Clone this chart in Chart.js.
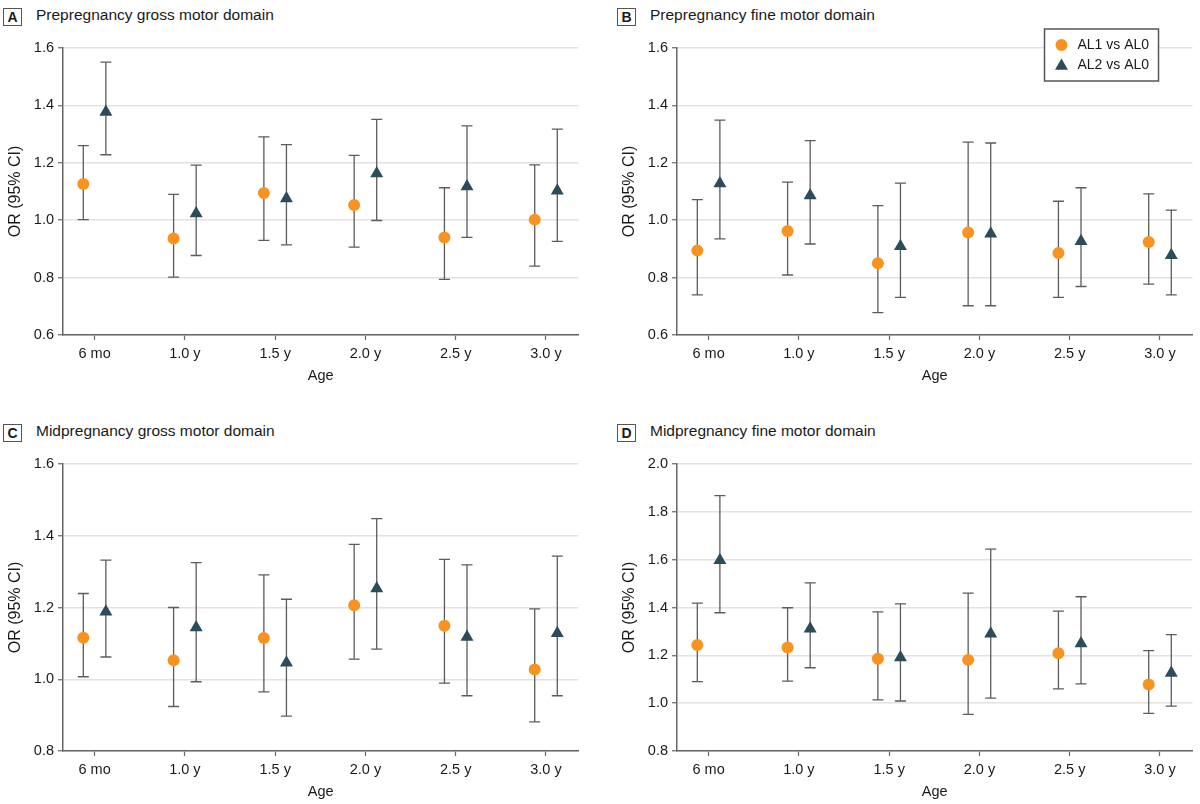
<!DOCTYPE html>
<html>
<head>
<meta charset="utf-8">
<title>Motor domain OR by age</title>
<script src="https://cdn.jsdelivr.net/npm/chart.js@4.4.1/dist/chart.umd.min.js"></script>
<style>
  body { margin: 0; background: #fff; width: 1200px; height: 804px; position: relative; overflow: hidden;
         font-family: 'Liberation Sans', Arial, sans-serif; color: #1a1a1a; }
  .panel { position: absolute; width: 586px; height: 400px; }
  .head { position: absolute; left: 3px; top: 8px; display: flex; align-items: center; }
  .tag { width: 17px; height: 16px; border: 1.5px solid #555; font-weight: bold; font-size: 14px;
         display: flex; align-items: center; justify-content: center; }
  .title { margin-left: 14px; font-size: 15.5px; position: relative; top: -2px; }
  .plot { position: absolute; left: 0; top: 20px; }
</style>
</head>
<body>
  <div class="panel" style="left:0;top:0">
    <div class="head"><div class="tag">A</div><div class="title">Prepregnancy gross motor domain</div></div>
    <canvas class="plot" id="chartA" width="586" height="380"></canvas>
  </div>
  <div class="panel" style="left:614px;top:0">
    <div class="head"><div class="tag">B</div><div class="title">Prepregnancy fine motor domain</div></div>
    <canvas class="plot" id="chartB" width="586" height="380"></canvas>
  </div>
  <div class="panel" style="left:0;top:416px">
    <div class="head"><div class="tag">C</div><div class="title">Midpregnancy gross motor domain</div></div>
    <canvas class="plot" id="chartC" width="586" height="380"></canvas>
  </div>
  <div class="panel" style="left:614px;top:416px">
    <div class="head"><div class="tag">D</div><div class="title">Midpregnancy fine motor domain</div></div>
    <canvas class="plot" id="chartD" width="586" height="380"></canvas>
  </div>

<script>
/* ====== DATA ====== */
const ageLabels = ['6 mo', '1.0 y', '1.5 y', '2.0 y', '2.5 y', '3.0 y'];

const yTicksPre = [0.6, 0.8, 1.0, 1.2, 1.4, 1.6];
const yTicksMidGross = [0.8, 1.0, 1.2, 1.4, 1.6];
const yTicksMidFine = [0.8, 1.0, 1.2, 1.4, 1.6, 1.8, 2.0];

// A - prepregnancy gross motor
const aAl1 = [1.126, 0.936, 1.095, 1.053, 0.940, 1.002];
const aAl1Lo = [1.002, 0.802, 0.930, 0.906, 0.794, 0.840];
const aAl1Hi = [1.260, 1.090, 1.290, 1.226, 1.113, 1.193];
const aAl2 = [1.377, 1.023, 1.076, 1.163, 1.117, 1.103];
const aAl2Lo = [1.228, 0.877, 0.914, 0.999, 0.940, 0.926];
const aAl2Hi = [1.551, 1.192, 1.263, 1.351, 1.329, 1.317];

// B - prepregnancy fine motor
const bAl1 = [0.894, 0.962, 0.850, 0.957, 0.886, 0.924];
const bAl1Lo = [0.740, 0.809, 0.678, 0.702, 0.731, 0.777];
const bAl1Hi = [1.072, 1.133, 1.051, 1.272, 1.066, 1.092];
const bAl2 = [1.128, 1.086, 0.909, 0.953, 0.927, 0.878];
const bAl2Lo = [0.935, 0.917, 0.731, 0.702, 0.769, 0.740];
const bAl2Hi = [1.349, 1.277, 1.129, 1.269, 1.113, 1.035];

// C - midpregnancy gross motor
const cAl1 = [1.116, 1.053, 1.115, 1.206, 1.149, 1.027];
const cAl1Lo = [1.007, 0.924, 0.965, 1.056, 0.989, 0.881];
const cAl1Hi = [1.239, 1.200, 1.291, 1.376, 1.334, 1.196];
const cAl2 = [1.188, 1.144, 1.046, 1.253, 1.118, 1.128];
const cAl2Lo = [1.062, 0.993, 0.897, 1.084, 0.954, 0.954];
const cAl2Hi = [1.332, 1.325, 1.223, 1.448, 1.319, 1.343];

// D - midpregnancy fine motor
const dAl1 = [1.243, 1.233, 1.186, 1.181, 1.209, 1.078];
const dAl1Lo = [1.090, 1.092, 1.014, 0.953, 1.060, 0.957];
const dAl1Hi = [1.418, 1.399, 1.382, 1.460, 1.385, 1.220];
const dAl2 = [1.598, 1.311, 1.191, 1.290, 1.250, 1.126];
const dAl2Lo = [1.378, 1.148, 1.009, 1.021, 1.081, 0.988];
const dAl2Hi = [1.868, 1.503, 1.415, 1.644, 1.445, 1.287];

/* ====== STYLE ====== */
const ORANGE = '#F7931E';
const TEAL = '#2B4C5A';
const AXIS = '#666';
const FONT = "'Liberation Sans', Arial, sans-serif";
const DODGE = 0.125;

/* ====== PLUGINS ====== */
// whiskers with caps, drawn under the markers
const errorBars = {
  id: 'errorBars',
  beforeDatasetsDraw(chart) {
    const { ctx } = chart;
    const y = chart.scales.y;
    ctx.save();
    ctx.strokeStyle = '#5c5c5c';
    ctx.lineWidth = 1.3;
    chart.data.datasets.forEach((ds, di) => {
      chart.getDatasetMeta(di).data.forEach((pt, i) => {
        const top = y.getPixelForValue(ds.hi[i]);
        const bot = y.getPixelForValue(ds.lo[i]);
        ctx.beginPath();
        ctx.moveTo(pt.x, top); ctx.lineTo(pt.x, bot);
        ctx.moveTo(pt.x - 5.5, top); ctx.lineTo(pt.x + 5.5, top);
        ctx.moveTo(pt.x - 5.5, bot); ctx.lineTo(pt.x + 5.5, bot);
        ctx.stroke();
      });
    });
    ctx.restore();
  }
};

// boxed legend in the top right corner of panel B
const boxLegend = {
  id: 'boxLegend',
  afterDraw(chart, args, opts) {
    if (!opts.show) return;
    const { ctx, chartArea } = chart;
    const left = chartArea.right - 148;
    const top = chartArea.top - 19;
    ctx.save();
    ctx.fillStyle = '#fff';
    ctx.fillRect(left, top, 114, 52);
    ctx.strokeStyle = '#555';
    ctx.lineWidth = 1.5;
    ctx.strokeRect(left, top, 114, 52);

    ctx.fillStyle = ORANGE;
    ctx.beginPath();
    ctx.arc(left + 17, top + 16, 6, 0, Math.PI * 2);
    ctx.fill();

    const tx = left + 17, ty = top + 37, r = 7.5;
    ctx.fillStyle = TEAL;
    ctx.beginPath();
    ctx.moveTo(tx, ty - r);
    ctx.lineTo(tx + r * 0.866, ty + r / 2);
    ctx.lineTo(tx - r * 0.866, ty + r / 2);
    ctx.closePath();
    ctx.fill();

    ctx.fillStyle = '#1a1a1a';
    ctx.font = '14px ' + FONT;
    ctx.textBaseline = 'middle';
    ctx.fillText('AL1 vs AL0', left + 33, top + 16);
    ctx.fillText('AL2 vs AL0', left + 33, top + 36);
    ctx.restore();
  }
};

/* ====== PANELS ====== */
function points(values, shift) {
  return values.map((v, i) => ({ x: i + shift, y: v }));
}

function makePanel(id, yTicks, s1, s1Lo, s1Hi, s2, s2Lo, s2Hi, showLegend) {
  new Chart(document.getElementById(id), {
    type: 'scatter',
    data: {
      datasets: [
        {
          label: 'AL1 vs AL0',
          data: points(s1, -DODGE),
          lo: s1Lo, hi: s1Hi,
          pointStyle: 'circle',
          pointRadius: 6,
          backgroundColor: ORANGE,
          borderWidth: 0,
        },
        {
          label: 'AL2 vs AL0',
          data: points(s2, DODGE),
          lo: s2Lo, hi: s2Hi,
          pointStyle: 'triangle',
          pointRadius: 7.5,
          backgroundColor: TEAL,
          borderWidth: 0,
        },
      ],
    },
    options: {
      responsive: false,
      animation: false,
      layout: { padding: { top: 28, right: 3, bottom: 15, left: 6 } },
      scales: {
        x: {
          type: 'linear',
          min: -0.35,
          max: 5.36,
          afterBuildTicks: (s) => { s.ticks = ageLabels.map((_, i) => ({ value: i })); },
          afterFit: (s) => { s.height = 50; },
          ticks: {
            callback: (v) => ageLabels[v] ?? '',
            font: { family: FONT, size: 14.5 },
            color: '#1a1a1a',
            padding: 5,
            maxRotation: 0,
            autoSkip: false,
          },
          grid: { drawOnChartArea: false, tickLength: 5, tickColor: AXIS, tickWidth: 1.2 },
          border: { color: AXIS, width: 1.5 },
          title: { display: true, text: 'Age', font: { family: FONT, size: 14.5 }, color: '#1a1a1a', padding: 0 },
        },
        y: {
          min: yTicks[0],
          max: yTicks[yTicks.length - 1],
          afterBuildTicks: (s) => { s.ticks = yTicks.map((v) => ({ value: v })); },
          afterFit: (s) => { s.width = 57; },
          ticks: {
            callback: (v) => v.toFixed(1),
            font: { family: FONT, size: 14.5 },
            color: '#1a1a1a',
            padding: 4,
          },
          grid: { color: '#e2e2e2', lineWidth: 1.5, tickLength: 5, tickColor: AXIS, tickWidth: 1.2 },
          border: { color: AXIS, width: 1.5 },
          title: { display: true, text: 'OR (95% CI)', font: { family: FONT, size: 16 }, color: '#1a1a1a', padding: 0 },
        },
      },
      plugins: {
        legend: { display: false },
        tooltip: { enabled: false },
        boxLegend: { show: showLegend },
      },
    },
    plugins: [errorBars, boxLegend],
  });
}

makePanel('chartA', yTicksPre, aAl1, aAl1Lo, aAl1Hi, aAl2, aAl2Lo, aAl2Hi, false);
makePanel('chartB', yTicksPre, bAl1, bAl1Lo, bAl1Hi, bAl2, bAl2Lo, bAl2Hi, true);
makePanel('chartC', yTicksMidGross, cAl1, cAl1Lo, cAl1Hi, cAl2, cAl2Lo, cAl2Hi, false);
makePanel('chartD', yTicksMidFine, dAl1, dAl1Lo, dAl1Hi, dAl2, dAl2Lo, dAl2Hi, false);
</script>
</body>
</html>
